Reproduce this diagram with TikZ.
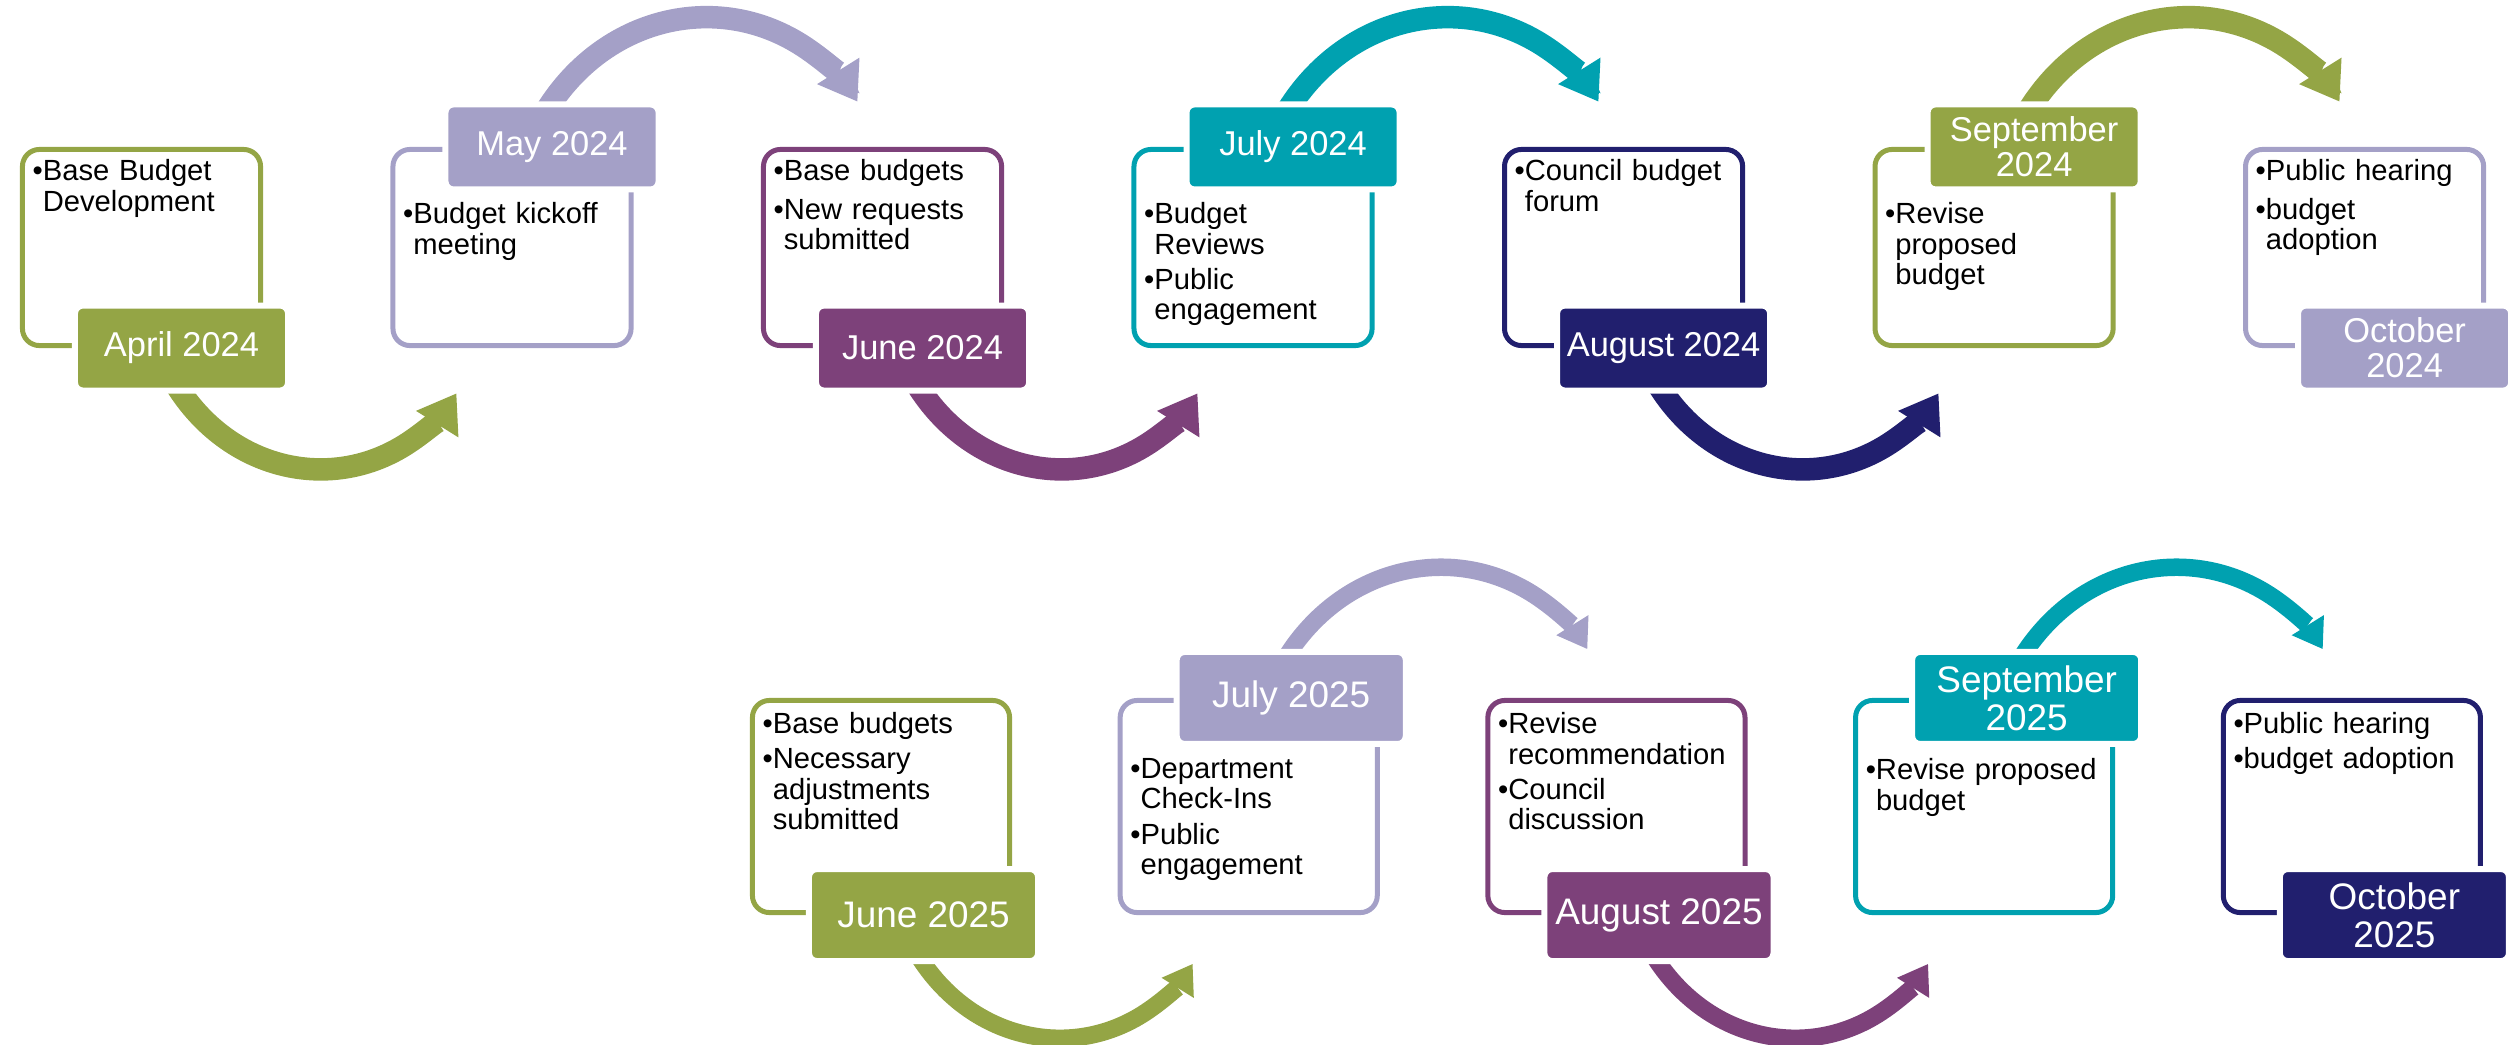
\documentclass[tikz,border=0pt]{standalone}
\usepackage{fontspec}
\setmainfont{Liberation Sans}
\usetikzlibrary{arrows.meta, positioning, backgrounds}

\definecolor{budgreen}{HTML}{94A545}
\definecolor{budlilac}{HTML}{A4A0C7}
\definecolor{budplum}{HTML}{7D417A}
\definecolor{budteal}{HTML}{00A1B0}
\definecolor{budnavy}{HTML}{211F6E}

\newcommand{\itm}[1]{\noindent\setbox0\hbox{\textbullet}\hangindent=\wd0\hangafter=1\box0#1\par}

\tikzset{
  rim/.style={draw=#1, line width=0.05cm, rounded corners=0.17cm, inner sep=0pt,
    minimum width=2.38cm, minimum height=1.96cm},
  bigrim/.style={rim=#1, minimum width=2.57cm, minimum height=2.12cm},
  monthtag/.style={fill=#1, draw=white, line width=0.06cm, rounded corners=0.08cm,
    text=white, align=center, inner sep=0pt, minimum width=2.13cm, minimum height=0.85cm,
    font=\fontsize{9.8}{10}\selectfont},
  bigtag/.style={monthtag=#1, minimum width=2.29cm, minimum height=0.92cm,
    font=\fontsize{10.5}{10.8}\selectfont},
  notes/.style={anchor=north west, inner sep=0pt, text width=2.5cm,
    font=\fontsize{8.3}{8.6}\selectfont\setlength{\parskip}{1.4pt}},
  flowarrow/.style={draw=#1, line width=0.225cm, shorten <=-0.1cm,
    -{Triangle[width=0.5cm, length=0.36cm, line width=0pt]}},
  smallflow/.style={draw=#1, line width=0.175cm, shorten <=-0.1cm,
    -{Triangle[width=0.38cm, length=0.28cm, line width=0pt]}}
}

\begin{document}
\begin{tikzpicture}[x=0.01cm, y=-0.01cm, on grid, node distance=3.703cm]
	\useasboundingbox (0,0) rectangle (2511,1045);

	% 2024
	\node[rim=budgreen] (apr) at (141.5,247.5) {};
	\node[rim=budlilac, right=of apr] (may) {};
	\node[rim=budplum, right=of may] (jun) {};
	\node[rim=budteal, right=of jun] (jul) {};
	\node[rim=budnavy, right=of jul] (aug) {};
	\node[rim=budgreen, right=of aug] (sep) {};
	\node[rim=budlilac, right=of sep] (oct) {};

	\node[monthtag=budgreen] (aprm) at ([xshift=0.4cm]apr.south) {April 2024};
	\node[monthtag=budlilac] (maym) at ([xshift=0.4cm]may.north) {May 2024};
	\node[monthtag=budplum] (junm) at ([xshift=0.4cm]jun.south) {June 2024};
	\node[monthtag=budteal] (julm) at ([xshift=0.4cm]jul.north) {July 2024};
	\node[monthtag=budnavy] (augm) at ([xshift=0.4cm]aug.south) {August 2024};
	\node[monthtag=budgreen] (sepm) at ([xshift=0.4cm]sep.north) {September\\2024};
	\node[monthtag=budlilac] (octm) at ([xshift=0.4cm]oct.south) {October\\2024};

	\node[notes] (aprn) at ([shift={(12,12)}]apr.north west) {\itm{Base Budget\newline Development}};
	\node[notes] (mayn) at ([shift={(12,55)}]may.north west) {\itm{Budget kickoff\newline meeting}};
	\node[notes] (junn) at ([shift={(12,12)}]jun.north west) {\itm{Base budgets}\vspace{0.9pt}\itm{New requests\newline submitted}};
	\node[notes] (juln) at ([shift={(12,55)}]jul.north west) {\itm{Budget\newline Reviews}\itm{Public\newline engagement}};
	\node[notes] (augn) at ([shift={(12,12)}]aug.north west) {\itm{Council budget\newline forum}};
	\node[notes] (sepn) at ([shift={(12,55)}]sep.north west) {\itm{Revise\newline proposed\newline budget}};
	\node[notes] (octn) at ([shift={(12,12)}]oct.north west) {\itm{Public hearing}\vspace{0.9pt}\itm{budget\newline adoption}};

	% 2025
	\begin{scope}[node distance=3.675cm]
	\node[bigrim=budgreen] (jun5) at (881,806.5) {};
	\node[bigrim=budlilac, right=of jun5] (jul5) {};
	\node[bigrim=budplum, right=of jul5] (aug5) {};
	\node[bigrim=budteal, right=of aug5] (sep5) {};
	\node[bigrim=budnavy, right=of sep5] (oct5) {};
	\end{scope}

	\node[bigtag=budgreen] (jun5m) at ([xshift=0.425cm]jun5.south) {June 2025};
	\node[bigtag=budlilac] (jul5m) at ([xshift=0.425cm]jul5.north) {July 2025};
	\node[bigtag=budplum] (aug5m) at ([xshift=0.425cm]aug5.south) {August 2025};
	\node[bigtag=budteal] (sep5m) at ([xshift=0.425cm]sep5.north) {September\\2025};
	\node[bigtag=budnavy] (oct5m) at ([xshift=0.425cm]oct5.south) {October\\2025};

	\node[notes] (jun5n) at ([shift={(12,14)}]jun5.north west) {\itm{Base budgets}\itm{Necessary\newline adjustments\newline submitted}};
	\node[notes] (jul5n) at ([shift={(12,60)}]jul5.north west) {\itm{Department\newline Check-Ins}\itm{Public\newline engagement}};
	\node[notes] (aug5n) at ([shift={(12,14)}]aug5.north west) {\itm{Revise\newline recommendation}\itm{Council\newline discussion}};
	\node[notes] (sep5n) at ([shift={(12,60)}]sep5.north west) {\itm{Revise proposed\newline budget}};
	\node[notes] (oct5n) at ([shift={(12,14)}]oct5.north west) {\itm{Public hearing}\itm{budget adoption}};

	\begin{pgfonlayer}{background}
	\draw[flowarrow=budgreen] (aprm.south) arc[start angle=148, end angle=32, radius=162];
	\draw[flowarrow=budlilac] (maym.north) arc[start angle=-148, end angle=-32, radius=180];
	\draw[flowarrow=budplum] (junm.south) arc[start angle=148, end angle=32, radius=162];
	\draw[flowarrow=budteal] (julm.north) arc[start angle=-148, end angle=-32, radius=180];
	\draw[flowarrow=budnavy] (augm.south) arc[start angle=148, end angle=32, radius=162];
	\draw[flowarrow=budgreen] (sepm.north) arc[start angle=-148, end angle=-32, radius=180];

	\draw[smallflow=budgreen] (jun5m.south) arc[start angle=148, end angle=32, radius=158.6];
	\draw[smallflow=budlilac] (jul5m.north) arc[start angle=-148, end angle=-32, radius=174.5];
	\draw[smallflow=budplum] (aug5m.south) arc[start angle=148, end angle=32, radius=158.6];
	\draw[smallflow=budteal] (sep5m.north) arc[start angle=-148, end angle=-32, radius=174.5];
	\end{pgfonlayer}
\end{tikzpicture}
\end{document}
